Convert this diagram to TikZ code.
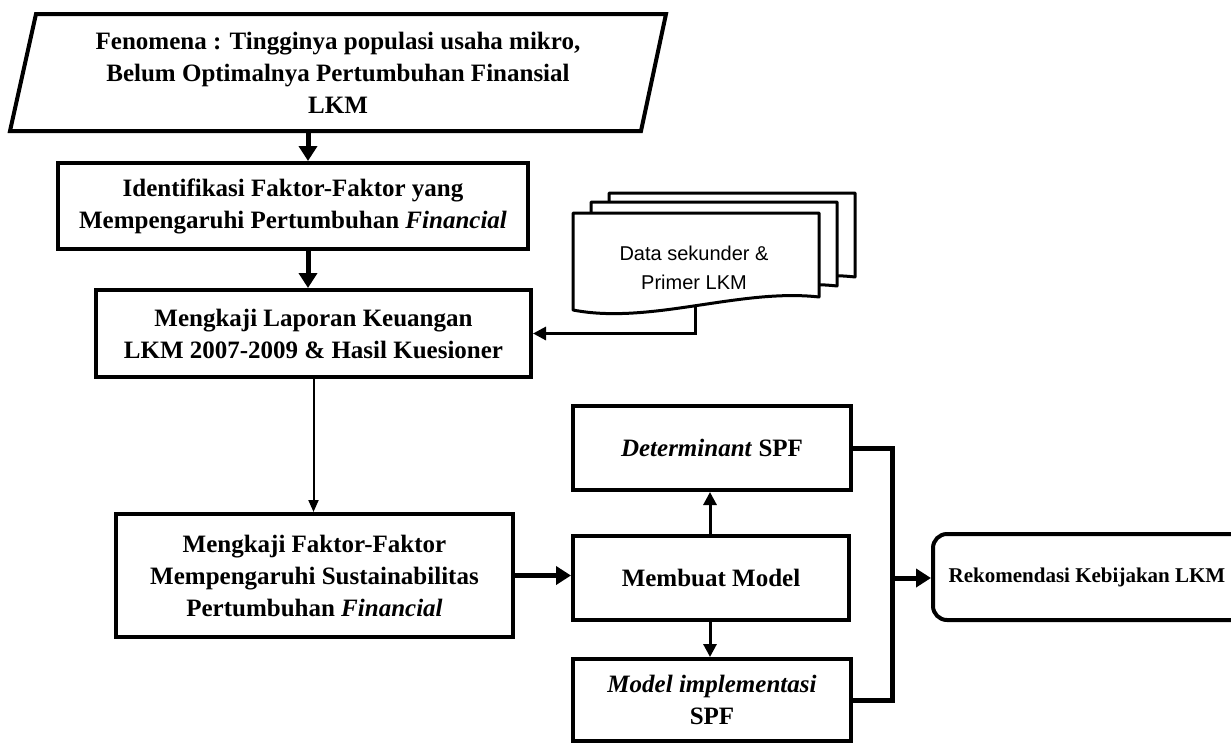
\documentclass[tikz,border=0pt]{standalone}
\usepackage{fontspec}
\setmainfont{Liberation Serif}
\setsansfont{Liberation Sans}
\usetikzlibrary{arrows.meta}
\tikzset{
  lbl/.style={font=\fontsize{25}{32}\selectfont\bfseries, align=center, inner sep=0pt},
  procbox/.style={draw, line width=4pt, fill=white, lbl},
  parashape/.style={draw, line width=4pt, line join=miter},
  docst/.style={draw, line width=3pt, fill=white, line join=round},
  bigarrow/.style={line width=5pt, -{Triangle[length=15pt,width=18pt]}},
  midarrow/.style={line width=3pt, -{Triangle[length=13pt,width=13pt]}},
  thinarrow/.style={line width=2pt, -{Triangle[length=12pt,width=10pt]}},
  joinline/.style={line width=5pt, line join=miter},
}
\begin{document}
\begin{tikzpicture}[x=1pt,y=-1pt]
\useasboundingbox (0,0) rectangle (1231,744);
\clip (0,0) rectangle (1231,744);

% parallelogram
\draw[parashape] (36,14) -- (666,14) -- (641,131) -- (10,131) -- cycle;
\node[lbl] (fen) at (338,73) {Fenomena : Tingginya populasi usaha mikro,\\Belum Optimalnya Pertumbuhan Finansial\\LKM};
\coordinate (fenb) at (308,131);

% boxes
\node[procbox, minimum width=470pt, minimum height=86pt] (ident) at (293,206)
  {Identifikasi Faktor-Faktor yang\\Mempengaruhi Pertumbuhan \textit{Financial}};
\node[procbox, minimum width=435pt, minimum height=87pt] (lap) at (313.5,333.5)
  {Mengkaji Laporan Keuangan\\LKM 2007-2009 \& Hasil Kuesioner};
\node[procbox, minimum width=397pt, minimum height=123pt] (fak) at (314.5,575.5)
  {Mengkaji Faktor-Faktor\\Mempengaruhi Sustainabilitas\\Pertumbuhan \textit{Financial}};
\node[procbox, minimum width=278pt, minimum height=84pt] (det) at (712,448)
  {\textit{Determinant} SPF};
\node[procbox, minimum width=276pt, minimum height=84pt] (mod) at (711,578)
  {Membuat Model};
\node[procbox, minimum width=278pt, minimum height=82pt] (imp) at (712,700)
  {\textit{Model implementasi}\\SPF};
\node[draw, line width=4pt, rounded corners=14pt, minimum width=330pt, minimum height=86pt] (rek) at (1098,577) {};
\node[font=\fontsize{21}{24}\selectfont\bfseries, inner sep=0pt] (rekt) at (1087,577) {Rekomendasi Kebijakan LKM};

% document stack
\foreach \s/\t in {36/-20,18/-11,0/0}{
  \draw[docst, shift={(\s,\t)}] (573,213) -- (819,213) -- (819,297)
     .. controls (740,288) and (650,325) .. (573,310) -- cycle;
}
\node[font=\sffamily\fontsize{20}{29}\selectfont, align=center, inner sep=0pt] (data) at (694,268)
  {Data sekunder \&\\Primer LKM};
\coordinate (datab) at (695,306);

% connectors
\draw[bigarrow] (fenb) -- (fenb |- ident.north);
\draw[bigarrow] (ident.south -| fenb) -- (lap.north -| fenb);
\draw[midarrow] (datab) |- (lap.east);
\draw[thinarrow] (lap.south) -- (lap.south |- fak.north);
\draw[bigarrow] (fak.east) -- (fak.east -| mod.west);
\draw[midarrow] (mod.north -| 710,0) -- (det.south -| 710,0);
\draw[midarrow] (mod.south -| 710,0) -- (imp.north -| 710,0);
\coordinate (jn) at (892,578);
\draw[joinline] (det.east) -| (jn) |- (imp.east);
\draw[bigarrow] (jn) -- (jn -| rek.west);
\end{tikzpicture}
\end{document}
